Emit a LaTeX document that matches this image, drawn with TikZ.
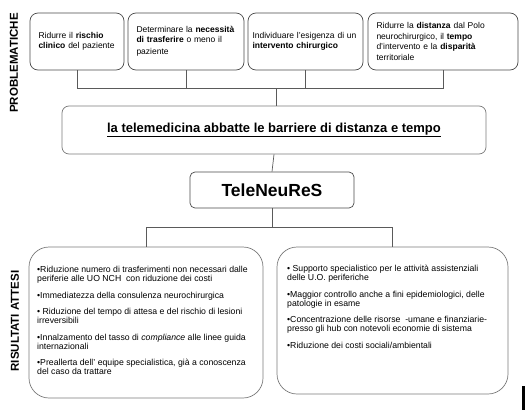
\documentclass[tikz,border=0pt]{standalone}
\usepackage{fontspec}
\setmainfont{Liberation Sans}
\definecolor{boxline}{HTML}{4A4A4A}
\definecolor{softline}{HTML}{7A7A7A}
\definecolor{connline}{HTML}{5A5A5A}
\begin{document}
\begin{tikzpicture}[x=1pt,y=-1pt,
  topbox/.style={draw=boxline, line width=0.7pt, rounded corners=8pt, inner xsep=8.5pt, inner ysep=0pt,
    align=left, font=\fontsize{8.5}{10.5}\selectfont},
  barbox/.style={draw=softline, line width=0.7pt, rounded corners=7pt, inner sep=0pt},
  namebox/.style={draw=boxline, line width=0.7pt, rounded corners=5pt, inner sep=0pt},
  resbox/.style={draw=softline, line width=0.7pt, rounded corners=20pt, inner sep=0pt},
  restext/.style={anchor=north west, inner sep=0pt, align=left, font=\fontsize{8.7}{9}\selectfont},
  sidelabel/.style={rotate=90, inner sep=0pt, font=\fontsize{11.5}{12}\selectfont\bfseries},
  conn/.style={draw=connline, line width=0.7pt}]
\useasboundingbox (0,0) rectangle (525,410);

% side labels
\node[sidelabel] (lab1) at (14,63) {PROBLEMATICHE};
\node[sidelabel] (lab2) at (15,321) {RISULTATI ATTESI};

% top boxes
\node[topbox, minimum width=94pt, minimum height=57pt, text width=77pt] (p1) at (77,41.5)
  {Ridurre il \textbf{rischio}\\\textbf{clinico} del paziente};
\node[topbox, minimum width=116pt, minimum height=57pt, text width=99pt] (p2) at (186,41.5)
  {Determinare la \textbf{necessità}\\\textbf{di trasferire} o meno il\\[1.5pt]paziente};
\node[topbox, minimum width=115pt, minimum height=57pt, text width=106pt, inner xsep=4.5pt] (p3) at (305.5,41.5)
  {Individuare l'esigenza di un\\\textbf{intervento chirurgico}};
\node[topbox, minimum width=150pt, minimum height=57pt, text width=133pt] (p4) at (443,41.5)
  {Ridurre la \textbf{distanza} dal Polo\\neurochirurgico, il \textbf{tempo}\\d'intervento e la \textbf{disparità}\\territoriale};

% main bar
\node[barbox, minimum width=424pt, minimum height=48pt, font=\fontsize{13}{15}\selectfont\bfseries] (bar) at (274,130)
  {\underline{la telemedicina abbatte le barriere di distanza e tempo}};

% project name
\node[namebox, minimum width=164pt, minimum height=36pt, font=\fontsize{17.5}{20}\selectfont\bfseries] (tn) at (272,190)
  {TeleNeuReS};

% result boxes
\node[resbox, minimum width=234pt, minimum height=151pt] (r1) at (146,322.5) {};
\node[resbox, minimum width=231pt, minimum height=147pt] (r2) at (392.5,320.5) {};

\node[restext] (t1) at (37,266)
  {•Riduzione numero di trasferimenti non necessari dalle\\
   periferie alle UO NCH\ \ con riduzione dei costi\\[7.5pt]
   •Immediatezza della consulenza neurochirurgica\\[7.5pt]
   • Riduzione del tempo di attesa e del rischio di lesioni\\
   irreversibili\\[7.5pt]
   •Innalzamento del tasso di \textit{compliance} alle linee guida\\
   internazionali\\[7.5pt]
   •Preallerta dell' equipe specialistica, già a conoscenza\\
   del caso da trattare};
\node[restext] (t2) at (287,265)
  {• Supporto specialistico per le attività assistenziali\\
   delle U.O. periferiche\\[7.5pt]
   •Maggior controllo anche a fini epidemiologici, delle\\
   patologie in esame\\[7.5pt]
   •Concentrazione delle risorse\ \ -umane e finanziarie-\\
   presso gli hub con notevoli economie di sistema\\[7.5pt]
   •Riduzione dei costi sociali/ambientali};

% connectors top
\coordinate (hb) at (276,88);
\draw[conn] (p1.south) -- (p1.south |- hb) -- (p4.south |- hb) -- (p4.south);
\draw[conn] (p2.south) -- (p2.south |- hb);
\draw[conn] (p3.south) -- (p3.south |- hb);
\draw[conn] (hb) -- (hb |- bar.north);
\draw[conn] (bar.south) -- (tn.north);

% connectors bottom
\coordinate (hb2) at (273,227);
\draw[conn] (tn.south) -- (tn.south |- hb2);
\draw[conn] (r1.north) -- (r1.north |- hb2) -- (r2.north |- hb2) -- (r2.north);

% black fragment at the lower right edge
\fill[black] (521.5,386) rectangle (525,410);
\end{tikzpicture}
\end{document}
